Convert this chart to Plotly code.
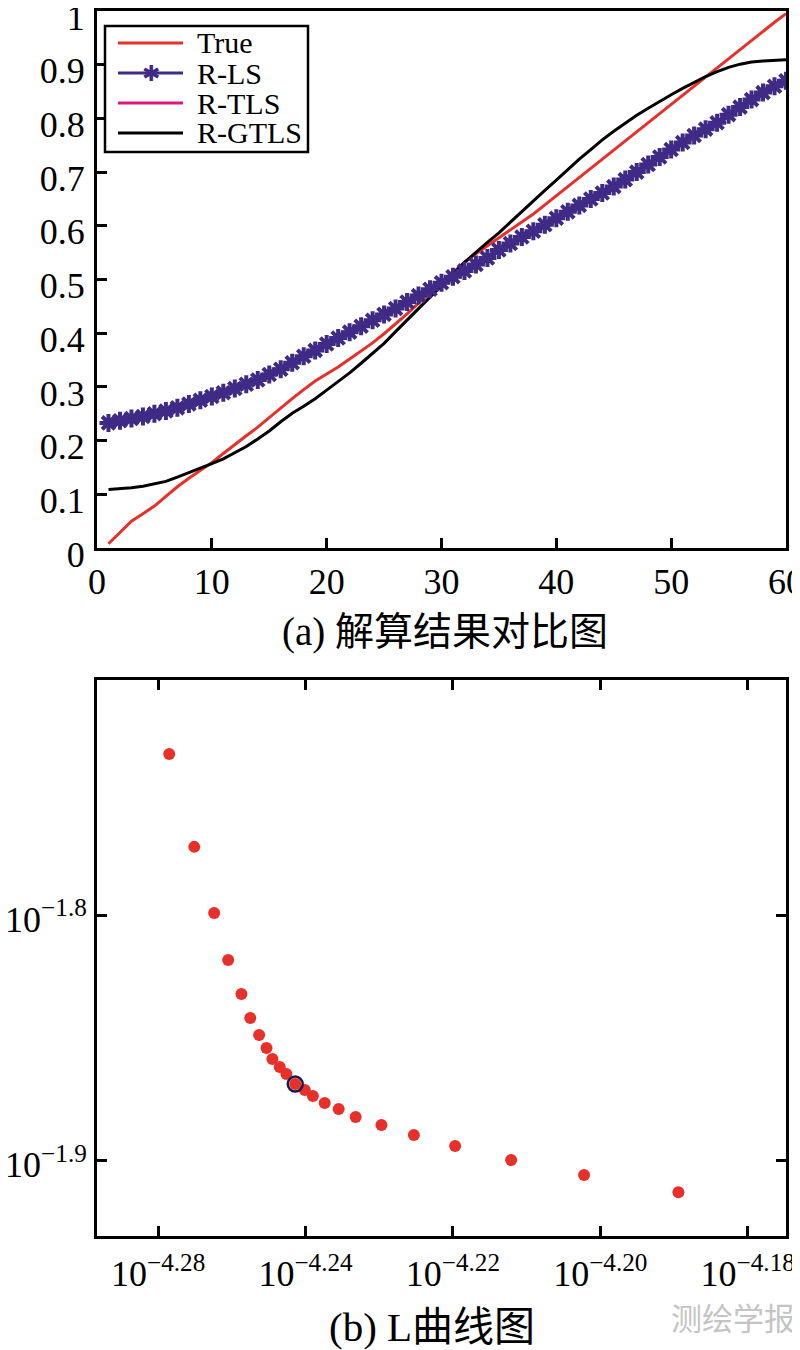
import numpy as np
import plotly.graph_objects as go

# ---------------- data: panel (a) ----------------
x_index = list(range(1, 61))
true_vals = [0.008, 0.030, 0.050, 0.064, 0.078, 0.096, 0.114, 0.130, 0.145, 0.159,
             0.176, 0.193, 0.209, 0.225, 0.243, 0.261, 0.278, 0.295, 0.311, 0.324,
             0.337, 0.352, 0.367, 0.382, 0.399, 0.417, 0.436, 0.456, 0.475, 0.494,
             0.513, 0.532, 0.548, 0.563, 0.577, 0.592, 0.607, 0.622, 0.639, 0.656,
             0.673, 0.690, 0.707, 0.724, 0.741, 0.758, 0.776, 0.793, 0.810, 0.827,
             0.844, 0.861, 0.878, 0.895, 0.912, 0.929, 0.946, 0.963, 0.979, 0.995]
rls_vals = [0.233, 0.237, 0.241, 0.245, 0.250, 0.255, 0.261, 0.268, 0.275, 0.282,
            0.289, 0.297, 0.305, 0.313, 0.323, 0.333, 0.345, 0.357, 0.368, 0.380,
            0.391, 0.402, 0.413, 0.424, 0.435, 0.446, 0.458, 0.470, 0.482, 0.494,
            0.505, 0.516, 0.528, 0.540, 0.555, 0.567, 0.579, 0.590, 0.602, 0.614,
            0.626, 0.638, 0.650, 0.661, 0.673, 0.686, 0.700, 0.714, 0.728, 0.742,
            0.755, 0.768, 0.780, 0.792, 0.807, 0.821, 0.835, 0.848, 0.860, 0.870]
rtls_vals = [0.233, 0.237, 0.241, 0.245, 0.250, 0.255, 0.261, 0.268, 0.275, 0.282,
             0.289, 0.297, 0.305, 0.313, 0.323, 0.333, 0.345, 0.357, 0.368, 0.380,
             0.391, 0.402, 0.413, 0.424, 0.435, 0.446, 0.458, 0.470, 0.482, 0.494,
             0.505, 0.516, 0.528, 0.540, 0.555, 0.567, 0.579, 0.590, 0.602, 0.614,
             0.626, 0.638, 0.650, 0.661, 0.673, 0.686, 0.700, 0.714, 0.728, 0.742,
             0.755, 0.768, 0.780, 0.792, 0.807, 0.821, 0.835, 0.848, 0.860, 0.870]
rgtls_vals = [0.109, 0.110, 0.112, 0.115, 0.119, 0.124, 0.132, 0.140, 0.148, 0.157,
              0.166, 0.177, 0.189, 0.203, 0.218, 0.235, 0.251, 0.264, 0.278, 0.294,
              0.310, 0.326, 0.344, 0.362, 0.381, 0.403, 0.424, 0.445, 0.467, 0.489,
              0.510, 0.532, 0.551, 0.569, 0.587, 0.607, 0.627, 0.647, 0.666, 0.685,
              0.705, 0.724, 0.742, 0.760, 0.776, 0.791, 0.806, 0.819, 0.832, 0.844,
              0.856, 0.867, 0.878, 0.887, 0.895, 0.901, 0.905, 0.907, 0.908, 0.909]
series_names = ["True", "R-LS", "R-TLS", "R-GTLS"]
a_xticks = [0, 10, 20, 30, 40, 50, 60]
a_yticks = [0, 0.1, 0.2, 0.3, 0.4, 0.5, 0.6, 0.7, 0.8, 0.9, 1]
a_yticktext = ["0", "0.1", "0.2", "0.3", "0.4", "0.5", "0.6", "0.7", "0.8", "0.9", "1"]

# ---------------- data: panel (b) L-curve (log10 exponents) ----------------
lc_log_x = [-4.2585, -4.2551, -4.2524, -4.2505, -4.2487, -4.2475, -4.2463, -4.2453,
            -4.2445, -4.2435, -4.2426, -4.2414, -4.2401, -4.2390, -4.2374, -4.2355,
            -4.2332, -4.2297, -4.2253, -4.2197, -4.2121, -4.2022, -4.1894]
lc_log_y = [-1.7343, -1.7722, -1.7992, -1.8184, -1.8322, -1.8420, -1.8490, -1.8543,
            -1.8588, -1.8620, -1.8649, -1.8690, -1.8714, -1.8739, -1.8767, -1.8792,
            -1.8824, -1.8857, -1.8898, -1.8943, -1.9000, -1.9061, -1.9131]
corner_index = 11
b_xtick_exp = [-4.26, -4.24, -4.22, -4.20, -4.18]
b_xticktext = ["10<sup>\u22124.28</sup>", "10<sup>\u22124.24</sup>", "10<sup>\u22124.22</sup>",
               "10<sup>\u22124.20</sup>", "10<sup>\u22124.18</sup>"]
b_ytick_exp = [-1.9, -1.8]
b_yticktext = ["10<sup>\u22121.9</sup>", "10<sup>\u22121.8</sup>"]

lc_x = (10.0 ** np.array(lc_log_x)).tolist()
lc_y = (10.0 ** np.array(lc_log_y)).tolist()

RED = "#e8302a"
PURPLE = "#3f2a85"
MAGENTA = "#e0157f"
SERIF = "Liberation Serif, Times New Roman, serif"
CJK = "Liberation Serif, Noto Sans CJK SC, serif"
series_colors = [RED, PURPLE, MAGENTA, "black"]

W, H, OFF = 800, 1350, 8  # page body margin compensation


def px(x):
    return (x - OFF) / W


def py(y):
    return 1 - (y - OFF) / H


fig = go.Figure()

fig.add_trace(go.Scatter(x=x_index, y=true_vals, mode="lines", name="True",
                         line=dict(color=RED, width=3), showlegend=False,
                         xaxis="x", yaxis="y"))
fig.add_trace(go.Scatter(x=x_index, y=rtls_vals, mode="lines", name="R-TLS",
                         line=dict(color=MAGENTA, width=3), showlegend=False,
                         xaxis="x", yaxis="y"))
fig.add_trace(go.Scatter(x=x_index, y=rgtls_vals, mode="lines", name="R-GTLS",
                         line=dict(color="black", width=3), showlegend=False,
                         xaxis="x", yaxis="y"))
fig.add_trace(go.Scatter(x=x_index, y=rls_vals, mode="lines+markers", name="R-LS",
                         line=dict(color=PURPLE, width=3),
                         marker=dict(symbol="asterisk-open", size=15, color=PURPLE,
                                     line=dict(color=PURPLE, width=4)),
                         showlegend=False, xaxis="x", yaxis="y"))

fig.add_trace(go.Scatter(x=lc_x, y=lc_y, mode="markers", showlegend=False,
                         marker=dict(color=RED, size=12),
                         xaxis="x2", yaxis="y2"))
fig.add_trace(go.Scatter(x=[lc_x[corner_index]], y=[lc_y[corner_index]], mode="markers",
                         showlegend=False,
                         marker=dict(symbol="circle-open", size=15, color="#1c1a4a",
                                     line=dict(color="#1c1a4a", width=2.5)),
                         xaxis="x2", yaxis="y2"))

axis_common = dict(showline=True, linecolor="black", linewidth=3, ticks="inside",
                   ticklen=10, tickwidth=2.5, tickcolor="black", showgrid=False,
                   zeroline=False, automargin=False, ticklabeloverflow="allow",
                   tickfont=dict(family=SERIF, size=36, color="black"))

# ---- legend drawn as a boxed key (upper left of panel a) ----
shapes = [dict(type="rect", xref="paper", yref="paper", x0=px(105), x1=px(308),
               y0=py(152), y1=py(26), line=dict(color="black", width=2.5),
               fillcolor="white", layer="above")]
annotations = []
row_y = [43, 73, 103, 133]
for name, color, ry in zip(series_names, series_colors, row_y):
    shapes.append(dict(type="line", xref="paper", yref="paper", x0=px(118), x1=px(183),
                       y0=py(ry), y1=py(ry), line=dict(color=color, width=3), layer="above"))
    annotations.append(dict(text=name, x=px(195), y=py(ry), xref="paper", yref="paper",
                            xanchor="left", yanchor="middle", showarrow=False,
                            font=dict(family=SERIF, size=30, color="black")))
annotations.append(dict(text="\u2731", x=px(151), y=py(73), xref="paper", yref="paper",
                        xanchor="center", yanchor="middle", showarrow=False,
                        font=dict(family="DejaVu Sans", size=22, color=PURPLE)))

annotations += [
    dict(text="(a) 解算结果对比图", x=px(445), y=py(632), xref="paper", yref="paper",
         xanchor="center", yanchor="middle", showarrow=False,
         font=dict(family=CJK, size=39, color="black")),
    dict(text="(b) L曲线图", x=px(432), y=py(1327), xref="paper", yref="paper",
         xanchor="center", yanchor="middle", showarrow=False,
         font=dict(family=CJK, size=41, color="black")),
    dict(text="测绘学报", x=px(733), y=py(1316), xref="paper", yref="paper",
         xanchor="center", yanchor="middle", showarrow=False,
         font=dict(family="Noto Sans CJK SC", size=31, color="#c4c4c4")),
]

fig.update_layout(
    width=W, height=H,
    margin=dict(l=0, r=0, t=0, b=0),
    paper_bgcolor="white", plot_bgcolor="white",
    showlegend=False,
    xaxis=dict(domain=[px(97), px(786)], range=[0, 60], tickvals=a_xticks,
               anchor="y", mirror=True, ticklabelstandoff=0, **axis_common),
    yaxis=dict(domain=[py(548), py(11)], range=[0, 1], tickvals=a_yticks,
               ticktext=a_yticktext, anchor="x", mirror=True, ticklabelstandoff=2,
               ticklabelshift=6, **axis_common),
    xaxis2=dict(domain=[px(97), px(786)], type="log", range=[-4.2683, -4.1748],
                tickvals=(10.0 ** np.array(b_xtick_exp)).tolist(), ticktext=b_xticktext,
                anchor="y2", mirror="allticks", ticklabelstandoff=4, **axis_common),
    yaxis2=dict(domain=[py(1236), py(680)], type="log", range=[-1.931, -1.7041],
                tickvals=(10.0 ** np.array(b_ytick_exp)).tolist(), ticktext=b_yticktext,
                anchor="x2", mirror="allticks", ticklabelstandoff=0, ticklabelshift=4,
                **axis_common),
    shapes=shapes,
    annotations=annotations,
)

fig.write_html("out.html")
